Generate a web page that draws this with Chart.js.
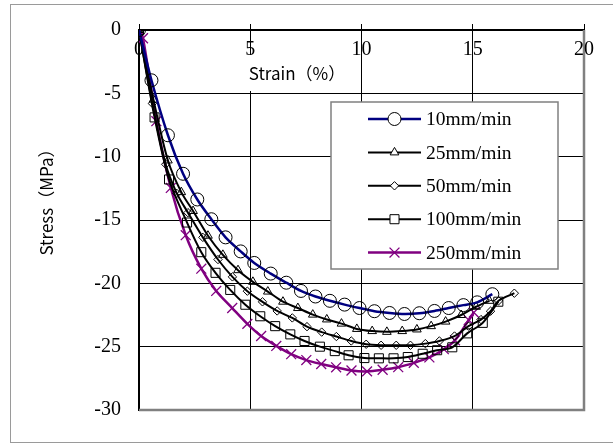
<!DOCTYPE html>
<html>
<head>
<meta charset="utf-8">
<script src="https://cdn.jsdelivr.net/npm/chart.js@4.4.0/dist/chart.umd.min.js"></script>
<style>
body{margin:0;background:#fff}
</style>
</head>
<body>
<canvas id="stressStrain" width="613" height="444"></canvas>
<script>
const rates = ['10mm/min','25mm/min','50mm/min','100mm/min','250mm/min']

const strain10 = [0, 0.56, 1.30, 1.98, 2.62, 3.25, 3.89, 4.57, 5.18, 5.92, 6.62, 7.28, 7.93, 8.58, 9.24, 9.91, 10.58, 11.26, 11.93, 12.6, 13.28, 13.92, 14.58, 15.2, 15.88]
const stress10 = [0, -3.97, -8.31, -11.35, -13.38, -14.94, -16.37, -17.48, -18.39, -19.23, -19.95, -20.6, -21.04, -21.38, -21.68, -21.95, -22.2, -22.34, -22.42, -22.36, -22.18, -21.95, -21.72, -21.5, -20.86]

const strain25 = [0, 0.65, 1.3, 1.9, 2.43, 3.1, 3.77, 4.45, 5.12, 5.79, 6.47, 7.14, 7.81, 8.44, 9.1, 9.79, 10.48, 11.14, 11.83, 12.49, 13.13, 13.78, 14.48, 15.15, 15.75]
const stress25 = [0, -5.5, -10.3, -12.8, -14.29, -16.24, -17.75, -18.96, -19.88, -20.65, -21.45, -21.95, -22.47, -22.85, -23.18, -23.6, -23.77, -23.83, -23.77, -23.64, -23.38, -23.02, -22.5, -21.85, -21.38]

const strain50 = [0, 0.6, 1.2, 1.7, 2.2, 2.87, 3.55, 4.2, 4.87, 5.55, 6.21, 6.89, 7.55, 8.21, 8.87, 9.54, 10.21, 10.88, 11.56, 12.2, 12.87, 13.5, 14.18, 14.81, 15.37, 15.8, 16.16, 16.87]
const stress50 = [0, -5.8, -10.6, -12.9, -14.42, -16.37, -18.12, -19.49, -20.62, -21.46, -22.18, -22.73, -23.42, -23.85, -24.2, -24.55, -24.81, -24.89, -24.89, -24.89, -24.76, -24.55, -24.16, -23.38, -22.86, -22.2, -21.38, -20.78]

const strain100 = [0, 0.7, 1.35, 2.16, 2.8, 3.44, 4.1, 4.78, 5.45, 6.12, 6.8, 7.44, 8.13, 8.8, 9.42, 10.13, 10.78, 11.44, 12.08, 12.75, 13.4, 14.08, 14.75, 15.45, 16.15]
const stress100 = [0, -6.9, -11.8, -15.2, -17.54, -19.17, -20.52, -21.69, -22.6, -23.38, -24.03, -24.55, -25.0, -25.35, -25.68, -25.9, -25.92, -25.92, -25.82, -25.56, -25.28, -25.05, -23.95, -23.12, -21.45]

const strain250 = [0, 0.18, 0.78, 1.43, 2.1, 2.8, 3.47, 4.19, 4.87, 5.49, 6.17, 6.84, 7.52, 8.19, 8.86, 9.55, 10.25, 10.95, 11.65, 12.35, 13.05, 13.7, 14.2, 14.82, 15.05]
const stress250 = [0, -0.65, -7.2, -12.47, -16.2, -18.84, -20.6, -21.95, -23.2, -24.16, -24.94, -25.59, -26.06, -26.37, -26.63, -26.88, -26.95, -26.82, -26.62, -26.28, -25.85, -25.2, -24.5, -22.9, -22.3]

const strains = [strain10, strain25, strain50, strain100, strain250]
const stresses = [stress10, stress25, stress50, stress100, stress250]

// line / marker look for each rate
const lineColors = ['#000080', '#000000', '#000000', '#000000', '#800080']
const lineWidths = [2.5, 2, 2, 2, 2.5]
const markerStyles = ['circle', 'triangle', 'rectRot', 'rect', 'crossRot']
const markerRadius = [6.5, 5, 4.2, 6.4, 7]

const serif = '"Liberation Serif", "Times New Roman", serif'
const gothic = '"Noto Sans CJK JP", "Noto Sans", sans-serif'

const datasets = rates.map((rate, i) => {
  return {
    label: rate,
    data: strains[i].map((x, j) => ({ x: x, y: stresses[i][j] })),
    showLine: true,
    tension: 0.3,
    borderColor: lineColors[i],
    borderWidth: lineWidths[i],
    pointStyle: markerStyles[i],
    pointRadius: markerRadius[i],
    pointBorderWidth: i == 4 ? 1.3 : 1,
    pointBorderColor: i == 4 ? '#800080' : '#000000',
    pointBackgroundColor: 'rgba(0,0,0,0)'
  }
})

const decorations = {
  id: 'decorations',
  beforeDatasetsDraw(chart) {
    const ctx = chart.ctx
    const area = chart.chartArea
    const xs = chart.scales.x
    ctx.save()

    // outer frame
    ctx.strokeStyle = '#9a9a9a'
    ctx.lineWidth = 1
    ctx.strokeRect(10.5, 4.5, 640, 438)

    // grey right / bottom edge of the plot
    ctx.strokeStyle = '#808080'
    ctx.lineWidth = 2.5
    ctx.beginPath()
    ctx.moveTo(area.right, area.top)
    ctx.lineTo(area.right, area.bottom)
    ctx.lineTo(area.left, area.bottom)
    ctx.stroke()

    // strain tick labels sit under the axis line
    ctx.fillStyle = '#000'
    ctx.font = '20px ' + serif
    ctx.textAlign = 'center'
    ctx.textBaseline = 'middle'
    xs.ticks.forEach(t => {
      ctx.fillText(String(t.value), xs.getPixelForValue(t.value), 50)
    })

    // x axis title on a white patch
    ctx.fillStyle = '#fff'
    ctx.fillRect(242, 55, 111, 36)
    ctx.fillStyle = '#000'
    ctx.font = '17px ' + gothic
    ctx.fillText('Strain（%）', 297, 74)

    // y axis title
    ctx.translate(47, 198)
    ctx.rotate(-Math.PI / 2)
    ctx.fillText('Stress（MPa）', 0, 0)
    ctx.restore()
  },
  afterDatasetsDraw(chart) {
    const ctx = chart.ctx
    ctx.save()
    ctx.fillStyle = '#fff'
    ctx.fillRect(331, 102, 227, 167)
    ctx.strokeStyle = '#808080'
    ctx.lineWidth = 1.5
    ctx.strokeRect(331, 102, 227, 167)

    ctx.font = '19.5px ' + serif
    ctx.textAlign = 'left'
    ctx.textBaseline = 'middle'
    chart.data.datasets.forEach((ds, i) => {
      const y = 119 + i * 33.4
      ctx.strokeStyle = ds.borderColor
      ctx.lineWidth = ds.borderWidth
      ctx.beginPath()
      ctx.moveTo(368, y)
      ctx.lineTo(421, y)
      ctx.stroke()
      ctx.strokeStyle = ds.pointBorderColor
      ctx.fillStyle = '#fff'
      ctx.lineWidth = ds.pointBorderWidth
      Chart.helpers.drawPoint(ctx, {
        pointStyle: ds.pointStyle,
        radius: ds.pointRadius,
        borderWidth: ds.pointBorderWidth,
        rotation: 0
      }, 394.5, y)
      ctx.fillStyle = '#000'
      ctx.fillText(ds.label, 426, y + 1)
    })
    ctx.restore()
  }
}

new Chart('stressStrain', {
  type: 'scatter',
  data: { datasets: datasets },
  options: {
    responsive: false,
    animation: false,
    devicePixelRatio: 1,
    layout: { padding: { left: 0, top: 0, right: 29, bottom: 34 } },
    plugins: {
      legend: { display: false },
      tooltip: { enabled: false }
    },
    scales: {
      x: {
        type: 'linear',
        position: 'top',
        min: 0,
        max: 20,
        ticks: { stepSize: 5, display: false },
        grid: { color: '#000', lineWidth: 1, tickLength: 6 },
        border: { color: '#000', width: 1.5 },
        afterFit(scale) { scale.height = 25 }
      },
      y: {
        type: 'linear',
        min: -30,
        max: 0,
        ticks: {
          stepSize: 5,
          color: '#000',
          padding: 18,
          font: { family: serif, size: 20 }
        },
        grid: { color: '#000', lineWidth: 1, drawTicks: false },
        border: { color: '#000', width: 2 },
        afterFit(scale) { scale.width = 139 }
      }
    }
  },
  plugins: [decorations]
})
</script>
</body>
</html>
